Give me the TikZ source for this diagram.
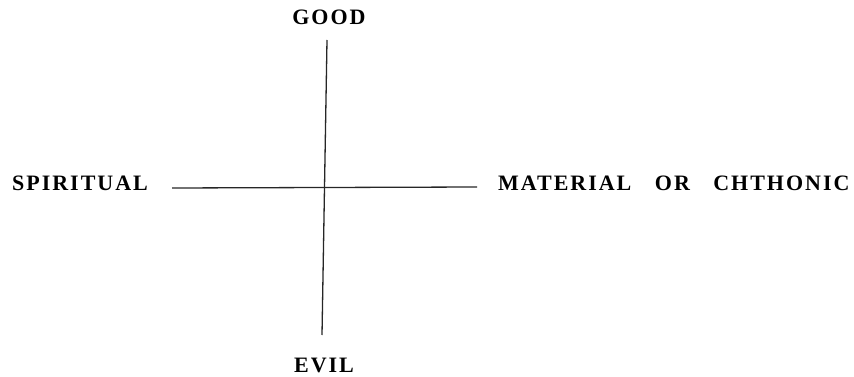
\documentclass[tikz,border=0pt]{standalone}
\usepackage{fontspec}
\setmainfont{Liberation Serif}[LetterSpace=9]
\begin{document}
\begin{tikzpicture}[x=1pt,y=-1pt,
  lbl/.style={inner sep=0pt,font=\fontsize{22}{22}\selectfont\bfseries},
  axis/.style={line width=1.3pt,black!85}]
\useasboundingbox (0,0) rectangle (854,377);
\node[lbl,anchor=west] (sp) at (12,183.5) {SPIRITUAL};
\node[lbl,anchor=west] (mat) at (498,183.5) {MATERIAL\hspace{16pt} OR\hspace{16pt} CHTHONIC};
\node[lbl] (good) at (329,17) {GOOD};
\node[lbl] (evil) at (324,365) {EVIL};
\coordinate (l) at (172,188);
\coordinate (r) at (477,187);
\coordinate (t) at (327,40);
\coordinate (b) at (322,335);
\draw[axis] (l) -- (r);
\draw[axis] (t) -- (b);
\end{tikzpicture}
\end{document}
